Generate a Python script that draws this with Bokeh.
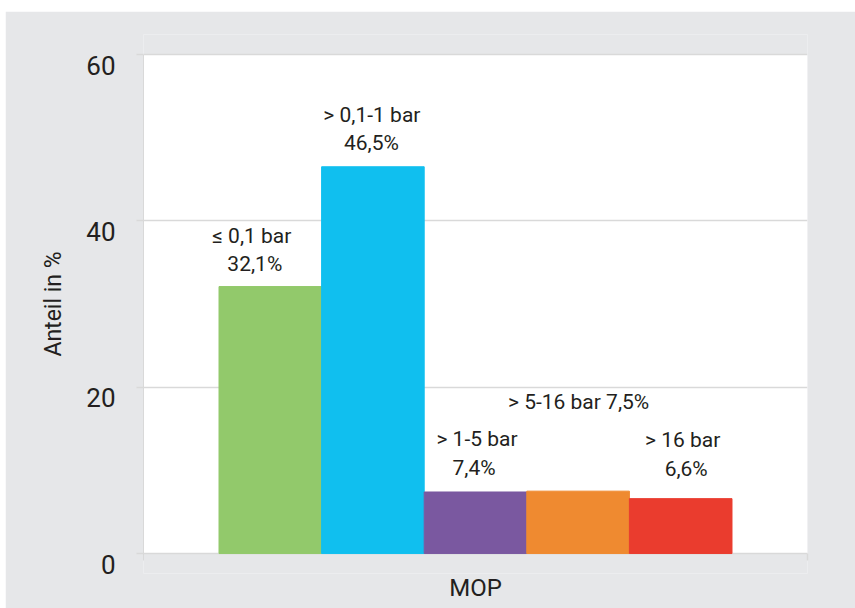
from bokeh.plotting import figure
from bokeh.models import Range1d, FixedTicker, ColumnDataSource, LinearAxis
from bokeh.core.properties import value
from bokeh.embed import file_html
from bokeh.resources import INLINE

# ---- data ----
categories = ["≤ 0,1 bar", "> 0,1-1 bar", "> 1-5 bar", "> 5-16 bar", "> 16 bar"]
shares = [32.1, 46.5, 7.4, 7.5, 6.6]
y_ticks = [0, 20, 40, 60]
x_category = "MOP"
y_title = "Anteil in %"

# ---- styles ----
bar_colors = ["#92c96b", "#10bfef", "#7a58a0", "#ef8a30", "#ea3c2e"]
single_line = [False, False, False, True, False]
name_dx = [-18.5, -1, 1.5, 0.5, 2]
name_dy = [51, 51.3, 52.5, 89.6, 59.1]
pct_dx = [-15.5, -1.5, -1.5, 0, 5.5]
pct_dy = [23, 23.3, 23.5, 0, 30.1]
PAD = 2.4            # frame extends beyond the value range (data units)
LABEL_SHIFT = 1.3    # tick labels sit a little below their ticks (data units)
TICK_EXT = 0.84      # axis lines run slightly below zero

FONT = "Roboto"
TXT = "#231f20"
GRID = "#d9d9d9"
BG = "#e6e7e9"

xs = list(range(len(categories)))
pct_txt = [f"{v:.1f}".replace(".", ",") + "%" for v in shares]
name_lines = [f"{c} {p}" if s else c for c, p, s in zip(categories, pct_txt, single_line)]
pct_lines = ["" if s else p for p, s in zip(pct_txt, single_line)]

y0, y1 = y_ticks[0], y_ticks[-1]
p = figure(width=850, height=597, output_backend="svg", toolbar_location=None,
           x_range=Range1d(-1.236, len(categories) - 1 + 1.236),
           y_range=Range1d(y0 - PAD, y1 + PAD),
           min_border_left=138, min_border_right=48, min_border_top=23, min_border_bottom=35)
p.styles = {"margin-left": "5px", "margin-top": "11px"}
p.background_fill_color = BG
p.border_fill_color = BG
p.outline_line_color = None
p.extra_y_ranges = {"lab": Range1d(y0 - PAD + LABEL_SHIFT, y1 + PAD + LABEL_SHIFT)}

# white plot area
p.quad(left=p.x_range.start, right=p.x_range.end, bottom=y0, top=y1,
       fill_color="white", line_color=None, level="image")

src = ColumnDataSource(dict(x=xs, top=shares, color=bar_colors, name=name_lines, pct=pct_lines,
                            ndx=name_dx, ndy=[-d for d in name_dy],
                            pdx=pct_dx, pdy=[-d for d in pct_dy]))
p.vbar(x="x", top="top", width=1, bottom=0, color="color", source=src)

p.text(x="x", y="top", text="name", x_offset="ndx", y_offset="ndy", source=src,
       text_font=value(FONT), text_font_size="21px", text_color=TXT,
       text_align="center", text_baseline="middle")
p.text(x="x", y="top", text="pct", x_offset="pdx", y_offset="pdy", source=src,
       text_font=value(FONT), text_font_size="21px", text_color=TXT,
       text_align="center", text_baseline="middle")

# grid
p.xgrid.grid_line_color = None
p.ygrid.ticker = FixedTicker(ticks=y_ticks)
p.ygrid.grid_line_color = GRID
p.ygrid.grid_line_width = 1.5

# y axis: line + outward ticks at the frame edge
ya = p.yaxis[0]
ya.bounds = (y0 - TICK_EXT, y1)
ya.ticker = FixedTicker(ticks=y_ticks)
ya.major_label_overrides = {t: "" for t in y_ticks}
ya.major_label_standoff = 0
ya.axis_line_color = GRID
ya.major_tick_line_color = GRID
ya.major_tick_line_width = 1.5
ya.major_tick_out = 7
ya.major_tick_in = 0
ya.minor_tick_line_color = None

# y axis: tick labels (set slightly lower) + title
yl = LinearAxis(y_range_name="lab", ticker=FixedTicker(ticks=y_ticks))
yl.axis_line_color = None
yl.major_tick_line_color = None
yl.minor_tick_line_color = None
yl.major_tick_out = 0
yl.major_tick_in = 0
yl.major_label_standoff = 21
yl.major_label_text_font = FONT
yl.major_label_text_font_size = "26px"
yl.major_label_text_color = TXT
yl.axis_label = y_title
yl.axis_label_text_font = FONT
yl.axis_label_text_font_size = "23px"
yl.axis_label_text_font_style = "normal"
yl.axis_label_text_color = TXT
yl.axis_label_standoff = 16
p.add_layout(yl, "left")

# right edge: short stub below zero
yr = LinearAxis(ticker=FixedTicker(ticks=[]), bounds=(y0 - TICK_EXT, y0))
yr.axis_line_color = GRID
yr.axis_line_width = 1.5
yr.major_tick_line_color = None
yr.minor_tick_line_color = None
p.add_layout(yr, "right")

# x axis (only the category title; the zero line is the grid line)
xa = p.xaxis[0]
xa.ticker = FixedTicker(ticks=[])
xa.axis_line_color = None
xa.major_tick_line_color = None
xa.minor_tick_line_color = None
xa.major_tick_out = 0
xa.major_label_standoff = 0
xa.axis_label = x_category
xa.axis_label_text_font = FONT
xa.axis_label_text_font_size = "24px"
xa.axis_label_text_font_style = "normal"
xa.axis_label_text_color = TXT
xa.axis_label_standoff = 0

open("out.html", "w").write(file_html(p, INLINE))
